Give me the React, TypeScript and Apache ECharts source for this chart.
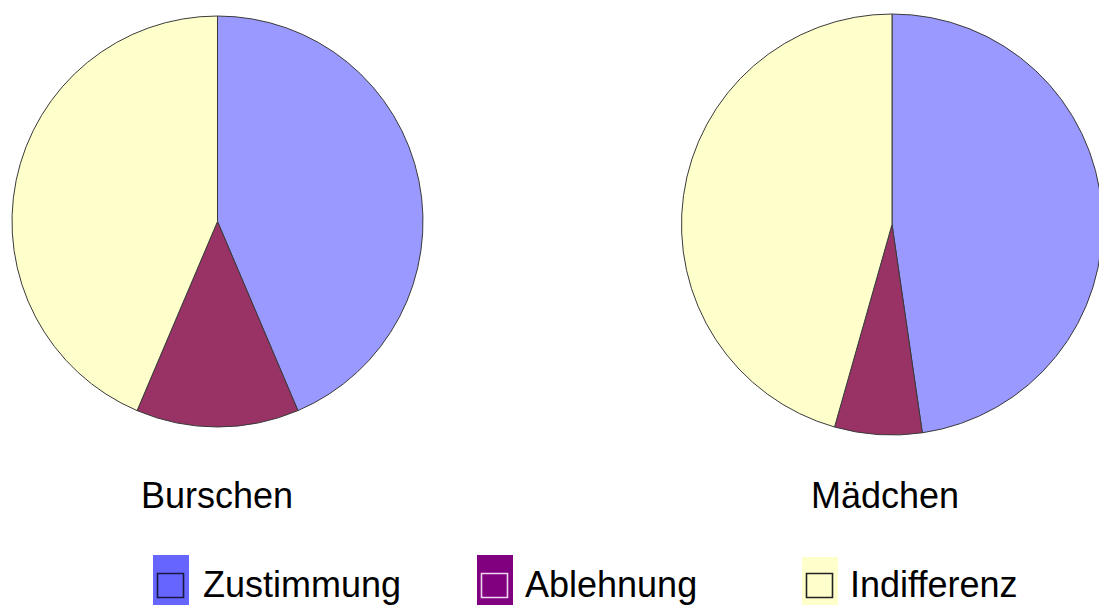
import React, { useEffect, useRef } from "react";
import * as echarts from "echarts";

// Answer categories and the two groups surveyed
const categories = ["Zustimmung", "Ablehnung", "Indifferenz"];
const groups = ["Burschen", "Mädchen"];

// Shares per group (percent), in category order
const burschen = [43.6, 12.8, 43.6];
const maedchen = [47.7, 6.7, 45.6];

const sliceColors = ["#9999ff", "#993366", "#ffffcc"];
const swatchColors = ["#6666ff", "#800080", "#ffffcc"];
const swatchInnerStroke = ["#1a1a40", "#f0d8f0", "#222222"];

const FONT = '"Liberation Sans", Arial, Helvetica, sans-serif';

export default function App() {
  const ref = useRef<HTMLDivElement>(null);

  useEffect(() => {
    if (!ref.current) return;
    const chart = echarts.init(ref.current, undefined, { renderer: "svg" });

    const pies = [
      { values: burschen, center: [217.5, 221.5], radius: 205.5 },
      { values: maedchen, center: [892, 224.5], radius: 210.5 },
    ];

    const series = pies.map((p, gi) => ({
      type: "pie" as const,
      name: groups[gi],
      center: p.center,
      radius: p.radius,
      startAngle: 90,
      clockwise: true,
      label: { show: false },
      labelLine: { show: false },
      emphasis: { disabled: true },
      silent: true,
      itemStyle: { borderColor: "#3a3a3a", borderWidth: 1 },
      data: categories.map((c, i) => ({
        name: c,
        value: p.values[i],
        itemStyle: { color: sliceColors[i] },
      })),
    }));

    // Group captions beneath each pie
    const captionX = [217, 885];
    const captions = groups.map((g, i) => ({
      type: "text" as const,
      x: captionX[i],
      y: 495,
      style: {
        text: g,
        font: `36px ${FONT}`,
        fill: "#000",
        textAlign: "center",
        textVerticalAlign: "middle",
      },
    }));

    // Legend: swatch with inner frame, then the label
    const swatchX = [153, 477, 802];
    const swatchTop = [555, 555, 557];
    const textX = [203, 525, 850];
    const legend: any[] = [];
    categories.forEach((c, i) => {
      legend.push({
        type: "rect",
        shape: { x: swatchX[i], y: swatchTop[i], width: 36, height: 60 },
        style: { fill: swatchColors[i] },
      });
      legend.push({
        type: "rect",
        shape: { x: swatchX[i] + 4.5, y: 573.5, width: 26, height: 24 },
        style: { fill: "none", stroke: swatchInnerStroke[i], lineWidth: 1.6 },
      });
      legend.push({
        type: "text",
        x: textX[i],
        y: 584,
        style: {
          text: c,
          font: `36px ${FONT}`,
          fill: "#000",
          textAlign: "left",
          textVerticalAlign: "middle",
        },
      });
    });

    chart.setOption({
      animation: false,
      backgroundColor: "#ffffff",
      series,
      graphic: [...captions, ...legend],
    });

    return () => chart.dispose();
  }, []);

  return (
    <div
      ref={ref}
      style={{ position: "fixed", left: 0, top: 0, width: 1099, height: 605 }}
    />
  );
}
